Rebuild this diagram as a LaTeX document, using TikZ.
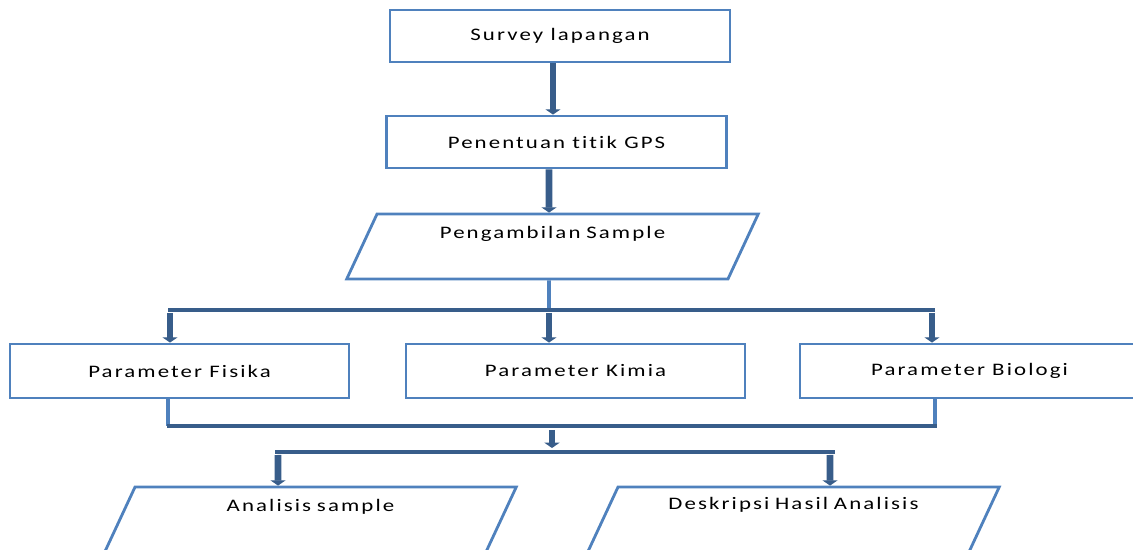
\documentclass[tikz,border=0pt]{standalone}
\usepackage{fontspec}
\setmainfont{Carlito}[FakeStretch=1.3,LetterSpace=12,Ligatures=NoCommon]
\usepackage{tikz}
\usetikzlibrary{arrows.meta,shapes.geometric,calc}
\definecolor{boxblue}{RGB}{79,129,189}
\definecolor{arrowblue}{RGB}{56,93,138}

\begin{document}
\begin{tikzpicture}[x=0.02cm,y=-0.02cm,
        box/.style={draw=boxblue,line width=1.6pt,minimum width=6.8cm,minimum height=1.04cm},
        iobox/.style={draw=boxblue,line width=1.6pt,trapezium,trapezium left angle=65,trapezium right angle=115,inner sep=0pt,text width=7.02cm,align=center,text height=0.49cm,text depth=0.81cm},
        flow/.style={draw=arrowblue,line width=3.8pt,-{Triangle[width=8.5pt,length=3pt]}},
        bar/.style={draw=arrowblue,line width=2.6pt},
        link/.style={draw=boxblue,line width=2.2pt}]
            \useasboundingbox (0,0) rectangle (1133,550);
            \node[box] (Survey) at (560,36) {Survey lapangan};
            \node[box] (Gps) at (556.5,142) {Penentuan titik GPS};
            \node[iobox] (Sample) at (552.5,246.5) {Pengambilan Sample};
            \node[box,minimum width=6.78cm,minimum height=1.08cm] (Fisika) at (179.5,371) {Parameter Fisika};
            \node[box,minimum width=6.78cm,minimum height=1.08cm] (Kimia) at (575.5,371) {Parameter Kimia};
            \node[box,minimum width=6.78cm,minimum height=1.08cm] (Biologi) at (969.5,371) {Parameter Biologi};
            \node[iobox] (Analisis) at (310.5,519.5) {Analisis sample};
            \node[iobox,text height=0.45cm,text depth=0.85cm] (Deskripsi) at (793.5,519.5) {Deskripsi Hasil Analisis};
            \coordinate (Split0) at (549,310);
            \coordinate (Join) at (552,426);
            \coordinate (Split1) at (552,452);
            \draw[flow] ($(Survey.south)+(-7,0)$) -- ($(Gps.north)+(-3.5,0)$);
            \draw[flow] ($(Gps.south)+(-7.5,0)$) -- ($(Sample.north)+(-3.5,0)$);
            \draw[link] ($(Sample.south)+(-3.5,0)$) -- (Split0);
            \draw[bar] ($(Split0)+(-381,0)$) -- ($(Split0)+(386,0)$);
            \draw[flow] ($(Split0)+(-379,3)$) -- ($(Fisika.north)+(-9.5,0)$);
            \draw[flow] ($(Split0)+(0,3)$) -- ($(Kimia.north)+(-26.5,0)$);
            \draw[flow] ($(Split0)+(383,3)$) -- ($(Biologi.north)+(-37.5,0)$);
            \draw[link] ($(Fisika.south)+(-11.5,0)$) -- ($(Join)+(-384,0)$);
            \draw[link] ($(Biologi.south)+(-34.5,0)$) -- ($(Join)+(383,0)$);
            \draw[bar] ($(Join)+(-385,0)$) -- ($(Join)+(385,0)$);
            \draw[flow] ($(Join)+(0,4)$) -- ($(Split1)+(0,-4)$);
            \draw[bar] ($(Split1)+(-277,0)$) -- ($(Split1)+(283,0)$);
            \draw[flow] ($(Split1)+(-274,3)$) -- ($(Analisis.north)+(-32.5,0)$);
            \draw[flow] ($(Split1)+(278,3)$) -- ($(Deskripsi.north)+(36.5,0)$);
        \end{tikzpicture}
\end{document}
